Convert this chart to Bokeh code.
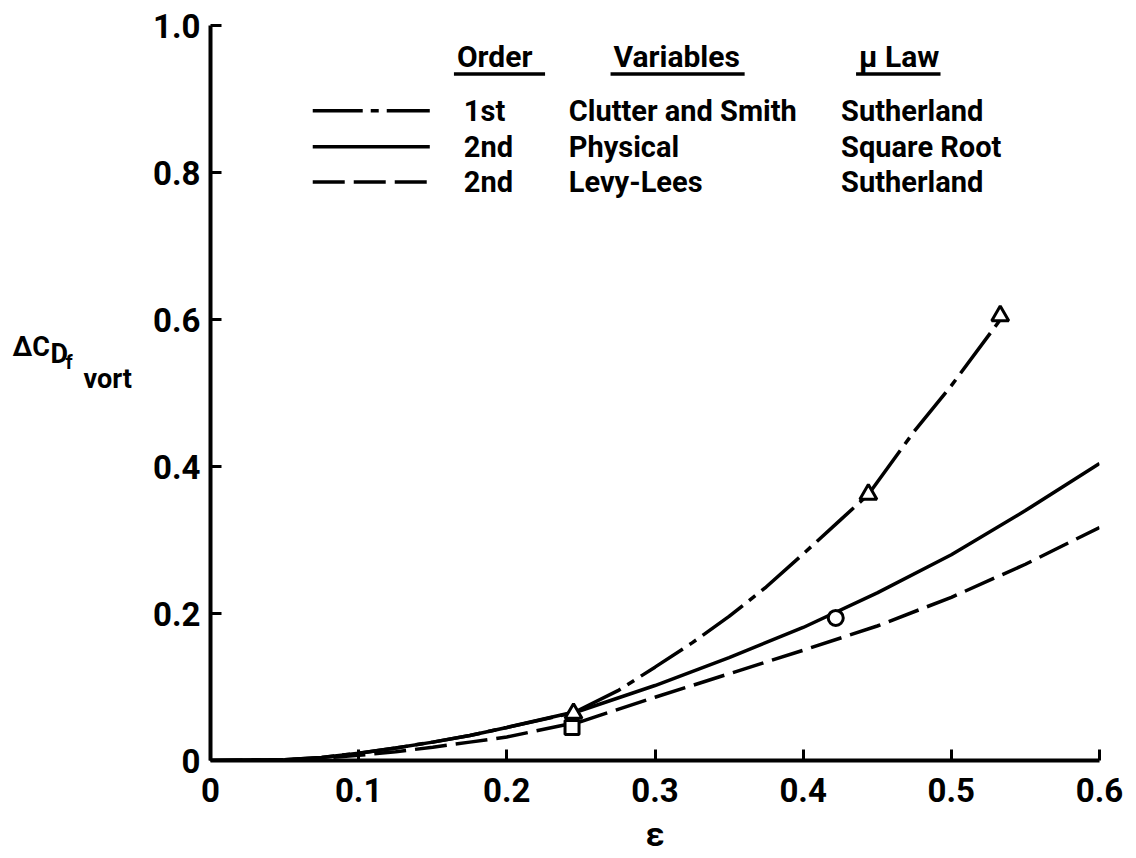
from bokeh.plotting import figure
from bokeh.layouts import row
from bokeh.models import FixedTicker, Label, Range1d
from bokeh.embed import file_html
from bokeh.resources import INLINE

FONT = "Roboto"

# ---------------- data ----------------
x_ticks = [0, 0.1, 0.2, 0.3, 0.4, 0.5, 0.6]
x_tick_labels = ["0", "0.1", "0.2", "0.3", "0.4", "0.5", "0.6"]
y_ticks = [0, 0.2, 0.4, 0.6, 0.8, 1.0]
y_tick_labels = ["0", "0.2", "0.4", "0.6", "0.8", "1.0"]
x_title = "\u03b5"
y_title_parts = ["\u0394C", "D", "f", "vort"]

# 2nd order, physical variables, square-root law (solid)
eps_physical = [0.0, 0.05, 0.075, 0.1, 0.125, 0.15, 0.175, 0.2, 0.25, 0.3, 0.35, 0.4, 0.45, 0.5, 0.55, 0.6]
cd_physical = [0.0, 0.001, 0.004, 0.010, 0.017, 0.025, 0.034, 0.045, 0.068, 0.102, 0.140, 0.181, 0.228, 0.280, 0.340, 0.404]

# 2nd order, Levy-Lees variables, Sutherland law (dashed)
eps_levy = [0.0, 0.05, 0.075, 0.1, 0.125, 0.15, 0.175, 0.2, 0.25, 0.3, 0.35, 0.4, 0.45, 0.5, 0.55, 0.6]
cd_levy = [0.0, 0.001, 0.003, 0.007, 0.012, 0.018, 0.025, 0.032, 0.053, 0.086, 0.118, 0.150, 0.183, 0.222, 0.267, 0.317]

# 1st order, Clutter and Smith variables, Sutherland law (dash-dot)
eps_clutter = [0.0, 0.05, 0.075, 0.1, 0.125, 0.15, 0.175, 0.2, 0.245, 0.275, 0.3, 0.325, 0.35,
               0.375, 0.4, 0.425, 0.444, 0.475, 0.5, 0.535]
cd_clutter = [0.0, 0.001, 0.004, 0.010, 0.017, 0.025, 0.034, 0.045, 0.065, 0.095, 0.127, 0.160, 0.196,
              0.236, 0.281, 0.327, 0.362, 0.448, 0.510, 0.605]

# symbols
tri_eps = [0.245, 0.444, 0.533]
tri_cd = [0.064, 0.362, 0.605]
circ_eps = [0.422]
circ_cd = [0.194]
sq_eps = [0.244]
sq_cd = [0.045]

# legend table
legend_headers = ["Order", "Variables", "\u03bc Law"]
legend_order = ["1st", "2nd", "2nd"]
legend_vars = ["Clutter and Smith", "Physical", "Levy-Lees"]
legend_law = ["Sutherland", "Square Root", "Sutherland"]

# ---------------- styles ----------------
DASH_CLUTTER = "50 8 8 8"
DASH_LEVY = "32 9"
LW = 3.5

# ---------------- y-axis title panel (left strip) ----------------
lab = figure(width=150, height=858, output_backend="svg", toolbar_location=None,
             x_range=Range1d(0, 150), y_range=Range1d(0, 858),
             x_axis_location=None, y_axis_location=None, min_border=0)
lab.outline_line_color = None
lab.grid.visible = False
ylab_pos = [(12, 483, "27px"), (50, 475, "27px"), (65, 465, "20px"), (83, 445, "27px")]
for txt, (lx, ly, fs) in zip(y_title_parts, ylab_pos):
    lab.add_layout(Label(x=lx, y=ly, text=txt, text_font=FONT, text_font_size=fs,
                         text_font_style="bold", text_align="left", text_baseline="alphabetic",
                         text_color="black"))

# ---------------- main plot ----------------
p = figure(width=986, height=858, output_backend="svg", toolbar_location=None,
           x_range=Range1d(0, 0.6), y_range=Range1d(0, 1.0),
           min_border_left=58, min_border_right=37, min_border_top=25, min_border_bottom=98)
p.outline_line_color = None
p.grid.visible = False
p.background_fill_color = "white"
p.border_fill_color = "white"

for ax, ticks, labels in ((p.xaxis[0], x_ticks, x_tick_labels), (p.yaxis[0], y_ticks, y_tick_labels)):
    ax.ticker = FixedTicker(ticks=ticks)
    ax.major_label_overrides = {t: l for t, l in zip(ticks, labels)}
    ax.axis_line_width = 4
    ax.axis_line_color = "black"
    ax.major_tick_in = 11
    ax.major_tick_out = 0
    ax.major_tick_line_width = 3
    ax.minor_tick_line_color = None
    ax.major_label_text_font = FONT
    ax.major_label_text_font_size = "33px"
    ax.major_label_text_font_style = "bold"
    ax.major_label_text_color = "black"
p.xaxis.major_label_standoff = 17
p.yaxis.major_label_standoff = 10
p.xaxis.axis_label = x_title
p.xaxis.axis_label_text_font = FONT
p.xaxis.axis_label_text_font_size = "34px"
p.xaxis.axis_label_text_font_style = "bold"
p.xaxis.axis_label_text_color = "black"
p.xaxis.axis_label_standoff = 9

# curves
p.line(eps_physical, cd_physical, line_color="black", line_width=LW)
p.line(eps_levy, cd_levy, line_color="black", line_width=LW, line_dash=DASH_LEVY)
p.line(eps_clutter, cd_clutter, line_color="black", line_width=LW, line_dash=DASH_CLUTTER)

# symbols
p.scatter(tri_eps, tri_cd, marker="triangle", size=17, fill_color="white", line_color="black", line_width=3)
p.scatter(circ_eps, circ_cd, marker="circle", size=15, fill_color="white", line_color="black", line_width=3)
p.scatter(sq_eps, sq_cd, marker="square", size=14, fill_color="white", line_color="black", line_width=3)

# ---------------- legend (drawn as a table) ----------------
row_y = [0.884, 0.835, 0.787]
header_y = 0.958
sample_x0, sample_x1 = 0.069, 0.148
col_x = [0.171, 0.2418, 0.4256]
header_x = [0.1663, 0.272, 0.4377]
header_w = [0.0595, 0.0885, 0.055]
underline_y = 0.934
dashes = [DASH_CLUTTER, "solid", DASH_LEVY]

for i in range(3):
    p.line([sample_x0, sample_x1], [row_y[i], row_y[i]], line_color="black", line_width=LW, line_dash=dashes[i])
    for cx, txt in zip(col_x, (legend_order[i], legend_vars[i], legend_law[i])):
        p.add_layout(Label(x=cx, y=row_y[i], text=txt, text_font=FONT, text_font_size="29px",
                           text_font_style="bold", text_baseline="middle", text_align="left",
                           text_color="black"))
for hx, hw, txt in zip(header_x, header_w, legend_headers):
    p.add_layout(Label(x=hx, y=header_y, text=txt, text_font=FONT, text_font_size="30px",
                       text_font_style="bold", text_baseline="middle", text_align="left",
                       text_color="black"))
    p.line([hx - 0.002, hx + hw], [underline_y, underline_y], line_color="black", line_width=3.5)

layout = row(lab, p, spacing=0)
open("out.html", "w").write(file_html(layout, INLINE))
